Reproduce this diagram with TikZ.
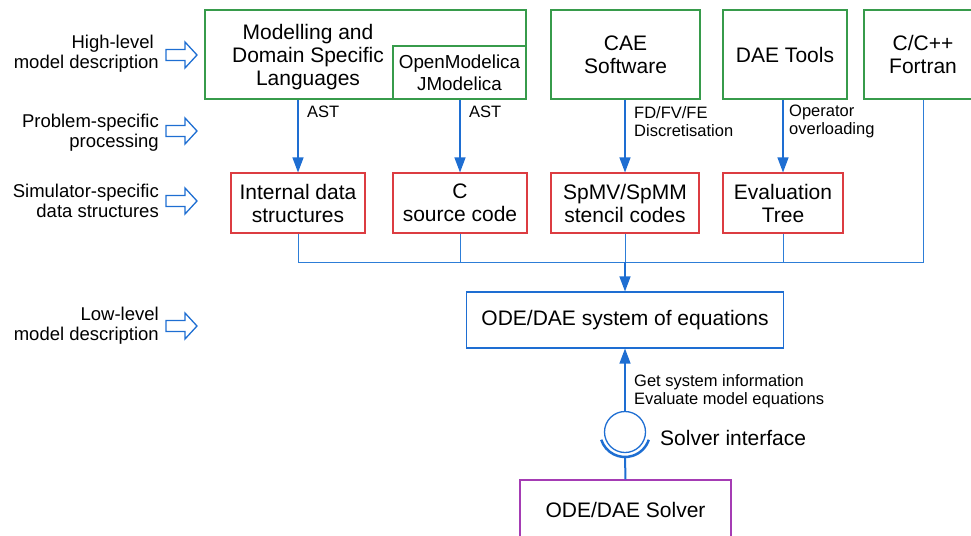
\documentclass[tikz,border=0pt]{standalone}
\usepackage{fontspec}
\setmainfont{Liberation Sans}
\usetikzlibrary{arrows.meta}
\definecolor{ablue}{RGB}{30,110,210}
\definecolor{lblue}{RGB}{45,125,215}
\definecolor{bgreen}{RGB}{55,155,75}
\definecolor{bred}{RGB}{220,60,65}
\definecolor{bpurple}{RGB}{165,60,180}
\newcommand\fbig{\fontsize{21}{23}\selectfont}
\newcommand\fmid{\fontsize{18.8}{22}\selectfont}
\newcommand\fside{\fontsize{18.5}{20}\selectfont}
\newcommand\fsmall{\fontsize{16.5}{18.5}\selectfont}
\begin{document}
\begin{tikzpicture}[x=1pt,y=-1pt,
  box/.style={draw, line width=1.1pt, inner sep=0pt, align=center, font=\fbig},
  gbox/.style={box, draw=bgreen},
  rbox/.style={box, draw=bred, minimum height=60pt},
  bbox/.style={box, draw=ablue},
  pbox/.style={box, draw=bpurple},
  txt/.style={inner sep=0pt, align=center, font=\fbig},
  side/.style={inner sep=0pt, align=right, anchor=east, font=\fside},
  note/.style={inner sep=0pt, align=left, anchor=west, font=\fsmall},
  arr/.style={draw=ablue, line width=1.2pt, -{Triangle[width=11pt,length=15pt]}},
  bus/.style={draw=lblue, line width=1pt},
  blockarrow/.pic={\draw[ablue, line width=1.3pt, line join=miter]
      (-15.5,-5.5) -- (3.5,-5.5) -- (3.5,-13) -- (15.5,0) -- (3.5,13)
      -- (3.5,5.5) -- (-15.5,5.5) -- cycle;}]
\useasboundingbox (0,0) rectangle (971,535);

% stage labels on the left
\node[side] (l1) at (159,54) {High-level\hspace*{5pt}\\model description};
\node[side] (l2) at (159,133) {Problem-specific\\processing};
\node[side] (l3) at (159,200.5) {Simulator-specific\\data structures};
\node[side] (l4) at (159,326) {Low-level\\model description};
\pic at (181.5,55) {blockarrow};
\pic at (181.5,131) {blockarrow};
\pic at (181.5,201) {blockarrow};
\pic at (181.5,326) {blockarrow};

% high-level front ends
\node[gbox, minimum width=321pt, minimum height=89pt] (mdl) at (365.5,54.5) {};
\node[txt] (mdltxt) at (308,57) {Modelling and\\Domain Specific\\Languages};
\node[gbox, minimum width=133pt, minimum height=53pt, font=\fmid] (om) at (459.5,72.5) {OpenModelica\\JModelica};
\node[gbox, minimum width=149pt, minimum height=89pt] (cae) at (625.5,54.5) {CAE\\Software};
\node[gbox, minimum width=124pt, minimum height=89pt] (dae) at (785,54.5) {DAE Tools};
\node[gbox, minimum width=118pt, minimum height=89pt] (cpp) at (923,54.5) {C/C++\\Fortran};

% simulator-specific data structures
\node[rbox, minimum width=134pt] (ids) at (298,203) {Internal data\\structures};
\node[rbox, minimum width=134pt] (csc) at (460,203) {C\\source code};
\node[rbox, minimum width=148pt] (spmv) at (625,203) {SpMV/SpMM\\stencil codes};
\node[rbox, minimum width=120pt] (evt) at (783,203) {Evaluation\\Tree};

% low-level description and solver
\node[bbox, minimum width=317pt, minimum height=56pt] (ode) at (625,320) {ODE/DAE system of equations};
\node[pbox, minimum width=211pt, minimum height=60pt] (solver) at (625.5,510) {ODE/DAE Solver};

% processing steps
\draw[arr] (ids.north |- mdl.south) -- (ids.north);
\draw[arr] (csc.north |- om.south) -- (csc.north);
\draw[arr] (spmv.north |- cae.south) -- (spmv.north);
\draw[arr] (evt.north |- dae.south) -- (evt.north);
\node[note] (ast1) at (307,112) {AST};
\node[note] (ast2) at (469,112) {AST};
\node[note] (disc) at (634,121.5) {FD/FV/FE\\Discretisation};
\node[note] (oper) at (789,121.5) {Operator\\overloading};

% collecting bus into the equation system
\coordinate (busR) at (cpp.south |- 0,262);
\draw[bus] (cpp.south) -- (busR) -- (ids.south |- busR) -- (ids.south);
\draw[bus] (csc.south) -- (csc.south |- busR);
\draw[bus] (spmv.south) -- (spmv.south |- busR);
\draw[bus] (evt.south) -- (evt.south |- busR);
\draw[arr] (ode.north |- busR) -- (ode.north);

% solver interface (ball and socket)
\node[draw=ablue, line width=1.3pt, circle, minimum size=41pt, inner sep=0pt] (iface) at (625,432) {};
\draw[ablue, line width=2.5pt] ([shift={(198:25pt)}]iface.center) arc[start angle=198, end angle=342, radius=25pt];
\coordinate (cupb) at ([yshift=-25pt]iface.center);
\draw[ablue, line width=2pt] (cupb) -- (solver.north);
\draw[arr] (iface.north) -- (ode.south);
\node[note] (calls) at (634,391) {Get system information\\Evaluate model equations};
\node[note, font=\fbig] (ifl) at (660,438) {Solver interface};
\end{tikzpicture}
\end{document}
